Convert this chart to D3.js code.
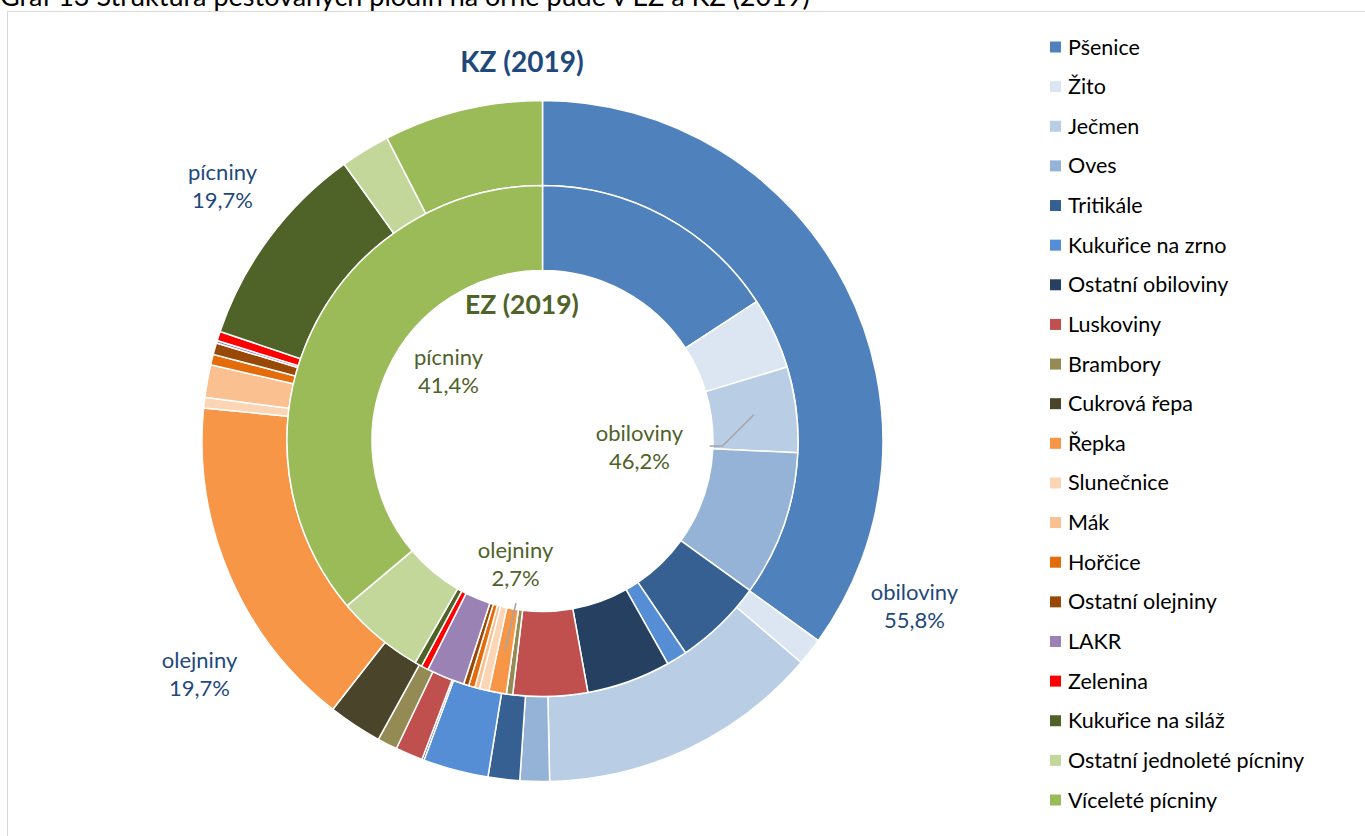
<!DOCTYPE html>
<html>
<head>
<meta charset="utf-8">
<script src="https://cdn.jsdelivr.net/npm/d3@7"></script>
<style>
  html, body { margin: 0; padding: 0; background: #fff; overflow: hidden; }
  svg { display: block; font-family: Lato, "Open Sans", sans-serif; }
</style>
</head>
<body>
<svg id="chart" width="1365" height="836"></svg>
<script>
const categories = ["Pšenice","Žito","Ječmen","Oves","Tritikále","Kukuřice na zrno","Ostatní obiloviny",
  "Luskoviny","Brambory","Cukrová řepa","Řepka","Slunečnice","Mák","Hořčice","Ostatní olejniny",
  "LAKR","Zelenina","Kukuřice na siláž","Ostatní jednoleté pícniny","Víceleté pícniny"];
const colors = ["#4F81BD","#DCE6F2","#B9CDE5","#95B3D7","#366092","#558ED5","#254061",
  "#C0504D","#948A54","#4A452A","#F79646","#FCD5B5","#FAC090","#E46C0A","#984807",
  "#9B82B4","#FF0000","#4F6228","#C4D79B","#9BBB59"];
// KZ (2019) – outer ring, % of arable land
const kzValues = [35.0,1.3,13.4,1.4,1.5,3.1,0.1,1.3,0.95,2.55,16.0,0.5,1.55,0.5,0.55,0.12,0.45,9.9,2.35,7.55];
// EZ (2019) – inner ring
const ezValues = [15.8,4.5,5.4,9.2,5.6,1.3,5.3,4.7,0.4,0,1.1,0.6,0.3,0.4,0.33,2.4,0.45,0.45,5.55,36.1];
const outerLabels = [
  {name:"obiloviny", pct:"55,8%", dx:372, dy:151},
  {name:"pícniny", pct:"19,7%", dx:-320, dy:-269},
  {name:"olejniny", pct:"19,7%", dx:-343, dy:219}
];
const innerLabels = [
  {name:"pícniny", pct:"41,4%", dx:-94, dy:-84},
  {name:"obiloviny", pct:"46,2%", dx:97, dy:-8, leaderFrom:2, bend:[180,5], end:[167,5]},
  {name:"olejniny", pct:"2,7%", dx:-27, dy:109, leaderFrom:10, bend:null, end:[-26.5,162]}
];
const chartTitle = "Graf 13 Struktura pěstovaných plodin na orné půdě v EZ a KZ (2019)";

const svg = d3.select("#chart");
const cx = 542.5, cy = 441;
const r0 = 170.5, r1 = 255.5, r2 = 340.5;

svg.append("text").attr("x", 0).attr("y", 6).attr("font-size", 27).attr("fill", "#000").text(chartTitle);
svg.append("rect").attr("x", 7.5).attr("y", 11.5).attr("width", 1400).attr("height", 900)
  .attr("fill", "none").attr("stroke", "#D9D9D9").attr("stroke-width", 1);

const pie = d3.pie().sort(null).value(d => d);
const g = svg.append("g").attr("transform", `translate(${cx},${cy})`);

const arcIn = d3.arc().innerRadius(r0).outerRadius(r1);
const arcOut = d3.arc().innerRadius(r1).outerRadius(r2);
const inArcs = pie(ezValues);
const outArcs = pie(kzValues);

g.selectAll("path.out").data(outArcs).join("path").attr("class","out")
  .attr("d", arcOut).attr("fill", (d,i) => colors[i])
  .attr("stroke", "#fff").attr("stroke-width", 1.5).attr("stroke-linejoin","round");
g.selectAll("path.in").data(inArcs).join("path").attr("class","in")
  .attr("d", arcIn).attr("fill", (d,i) => colors[i])
  .attr("stroke", "#fff").attr("stroke-width", 1.5).attr("stroke-linejoin","round");

// leader lines
innerLabels.forEach(l => {
  if (l.leaderFrom === undefined) return;
  const c = arcIn.centroid(inArcs[l.leaderFrom]);
  const pts = [c];
  if (l.bend) pts.push(l.bend);
  pts.push(l.end);
  g.append("path").attr("d", d3.line()(pts)).attr("fill","none")
    .attr("stroke", "#A6A6A6").attr("stroke-width", 1.5);
});

const fs = 22;
outerLabels.forEach(l => {
  const t = g.append("text").attr("text-anchor","middle").attr("font-size", fs).attr("fill","#1F497D");
  t.append("tspan").attr("x", l.dx).attr("y", l.dy).attr("dy","0.35em").text(l.name);
  t.append("tspan").attr("x", l.dx).attr("y", l.dy + 28).attr("dy","0.35em").text(l.pct);
});
innerLabels.forEach(l => {
  const t = g.append("text").attr("text-anchor","middle").attr("font-size", fs).attr("fill","#4F6228");
  t.append("tspan").attr("x", l.dx).attr("y", l.dy).attr("dy","0.35em").text(l.name);
  t.append("tspan").attr("x", l.dx).attr("y", l.dy + 28).attr("dy","0.35em").text(l.pct);
});

svg.append("text").attr("x", 522).attr("y", 62).attr("dy","0.35em").attr("text-anchor","middle")
  .attr("font-size", 28).attr("font-weight","bold").attr("fill","#1F497D").text("KZ (2019)");
svg.append("text").attr("x", 522).attr("y", 305).attr("dy","0.35em").attr("text-anchor","middle")
  .attr("font-size", 26.5).attr("font-weight","bold").attr("fill","#4F6228").text("EZ (2019)");

// legend
const ly = d3.scalePoint().domain(categories).range([47, 800]);
const lg = svg.append("g");
const items = lg.selectAll("g").data(categories).join("g")
  .attr("transform", d => `translate(1050,${ly(d)})`);
items.append("rect").attr("x", 0).attr("y", -5.5).attr("width", 11).attr("height", 11)
  .attr("fill", (d,i) => colors[i]);
items.append("text").attr("x", 18).attr("y", 0).attr("dy","0.35em")
  .attr("font-size", 21.5).attr("fill","#000").text(d => d);
</script>
</body>
</html>
